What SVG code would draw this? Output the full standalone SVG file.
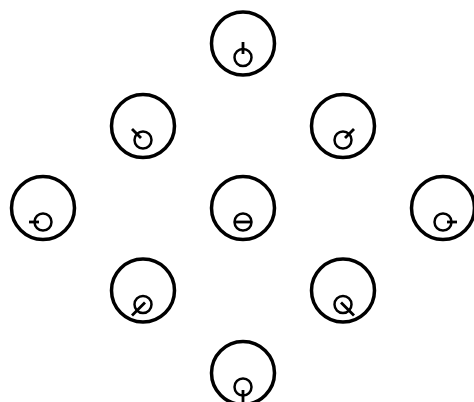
<svg xmlns="http://www.w3.org/2000/svg" width="474" height="402" viewBox="0 0 474 402">
<style>
.big{fill:none;stroke:#000;stroke-width:3.5}
.small{fill:none;stroke:#000;stroke-width:2.5}
.dir{stroke:#000;stroke-width:2.8;stroke-linecap:butt}
</style>
<rect width="474" height="402" fill="#fff"/>
<g id="n">
<circle class="big" cx="243" cy="43.5" r="31.5"/>
<circle class="small" cx="243" cy="57.5" r="8.5"/>
<line class="dir" x1="243" y1="54" x2="243" y2="42"/>
</g>
<g id="nw">
<circle class="big" cx="143" cy="126" r="31.5"/>
<circle class="small" cx="143" cy="140" r="8.5"/>
<line class="dir" x1="141" y1="138" x2="132" y2="129"/>
</g>
<g id="ne">
<circle class="big" cx="343" cy="126" r="31.5"/>
<circle class="small" cx="343" cy="140" r="8.5"/>
<line class="dir" x1="345" y1="138" x2="354" y2="129"/>
</g>
<g id="w">
<circle class="big" cx="43" cy="208" r="31.5"/>
<circle class="small" cx="43" cy="222" r="8.5"/>
<line class="dir" x1="39" y1="222" x2="29" y2="222"/>
</g>
<g id="c">
<circle class="big" cx="243" cy="208" r="31.5"/>
<circle class="small" cx="243" cy="222" r="8.5"/>
<line class="dir" x1="234.5" y1="222" x2="251.5" y2="222"/>
</g>
<g id="e">
<circle class="big" cx="443" cy="208" r="31.5"/>
<circle class="small" cx="443" cy="222" r="8.5"/>
<line class="dir" x1="447" y1="222" x2="457" y2="222"/>
</g>
<g id="sw">
<circle class="big" cx="143" cy="290.5" r="31.5"/>
<circle class="small" cx="143" cy="304.5" r="8.5"/>
<line class="dir" x1="145" y1="302.5" x2="132" y2="315.5"/>
</g>
<g id="se">
<circle class="big" cx="343" cy="290.5" r="31.5"/>
<circle class="small" cx="343" cy="304.5" r="8.5"/>
<line class="dir" x1="341" y1="302.5" x2="354" y2="315.5"/>
</g>
<g id="s">
<circle class="big" cx="243" cy="373" r="31.5"/>
<circle class="small" cx="243" cy="387" r="8.5"/>
<line class="dir" x1="243" y1="390" x2="243" y2="402"/>
</g>
<g id="connectors"></g>
</svg>
